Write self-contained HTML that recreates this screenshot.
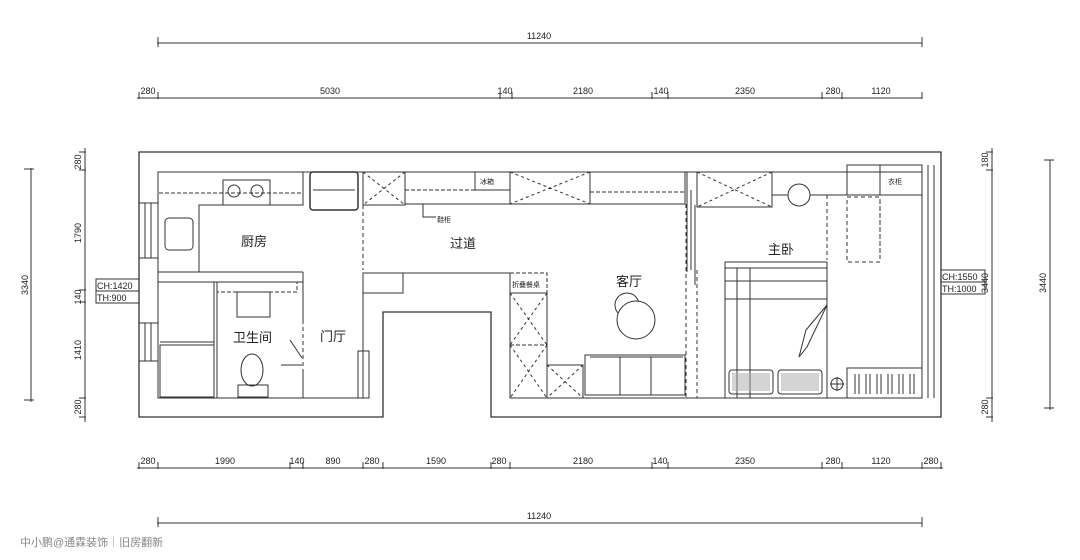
<!DOCTYPE html>
<html><head><meta charset="utf-8"><style>
html,body{margin:0;padding:0;background:#fff;width:1080px;height:560px;overflow:hidden}
svg{display:block}
text{font-family:"Liberation Sans","Noto Sans CJK SC",sans-serif;fill:#222}
</style></head><body>
<svg width="1080" height="560" viewBox="0 0 1080 560" xmlns="http://www.w3.org/2000/svg">
<g stroke="#333" stroke-width="1" fill="none">
<!-- top dims -->
<line x1="157" y1="43" x2="922" y2="43"/><line x1="158" y1="37" x2="158" y2="47"/><line x1="922" y1="37" x2="922" y2="47"/>
<line x1="137" y1="98" x2="922" y2="98"/>
<path d="M139 92v7M158 92v7M500 92v7M512 92v7M652 92v7M668 92v7M822 92v7M842 92v7M922 92v7"/>
<!-- bottom dims -->
<line x1="137" y1="468" x2="943" y2="468"/>
<path d="M139 462v7M158 462v7M290 462v7M303 462v7M363 462v7M383 462v7M491 462v7M510 462v7M652 462v7M668 462v7M822 462v7M842 462v7M922 462v7M941 462v7"/>
<line x1="157" y1="523" x2="922" y2="523"/><line x1="158" y1="517" x2="158" y2="527"/><line x1="922" y1="517" x2="922" y2="527"/>
<!-- left dims -->
<line x1="31" y1="168" x2="31" y2="402"/><line x1="24" y1="169" x2="34" y2="169"/><line x1="24" y1="400" x2="34" y2="400"/>
<line x1="85" y1="148" x2="85" y2="422"/>
<path d="M79 152h7M79 170h7M79 290h7M79 302h7M79 398h7M79 417h7"/>
<rect x="96" y="279" width="43" height="12"/><rect x="96" y="291" width="43" height="12"/>
<!-- right dims -->
<line x1="992" y1="148" x2="992" y2="422"/>
<path d="M986 152h7M986 170h7M986 398h7M986 417h7"/>
<line x1="1050" y1="160" x2="1050" y2="410"/><line x1="1044" y1="160" x2="1054" y2="160"/><line x1="1044" y1="408" x2="1054" y2="408"/>
<rect x="941" y="270" width="44" height="12"/><rect x="941" y="282" width="44" height="12"/>

<!-- outer walls -->
<path d="M139 152H941V417H491V312H383V417H139Z" stroke-width="1.3"/>
<path d="M158 172H922V398"/>
<path d="M158 172V398H363V293H403V273H510V293" />
<line x1="922" y1="398" x2="510" y2="398"/>
<!-- windows left -->
<rect x="139" y="203" width="19" height="55"/><line x1="145" y1="203" x2="145" y2="258"/><line x1="151" y1="203" x2="151" y2="258"/>
<rect x="139" y="323" width="19" height="38"/><line x1="145" y1="323" x2="145" y2="361"/><line x1="151" y1="323" x2="151" y2="361"/>
<!-- window right -->
<line x1="928" y1="165" x2="928" y2="398"/><line x1="934" y1="165" x2="934" y2="398"/>
<!-- kitchen -->
<rect x="158" y="172" width="145" height="21" stroke-dasharray="4 2"/>
<path d="M199 272V205H303V172"/>
<rect x="223" y="180" width="47" height="25"/><circle cx="234" cy="191" r="6"/><circle cx="257" cy="191" r="6"/>
<rect x="310" y="172" width="48" height="38" rx="3" stroke-width="1.5"/><line x1="313" y1="190" x2="355" y2="190"/>
<rect x="165" y="218" width="28" height="32" rx="4"/>
<line x1="158" y1="272" x2="303" y2="272"/><line x1="158" y1="282" x2="303" y2="282"/>
<path d="M303 272V320M303 370V398"/><line x1="303" y1="320" x2="303" y2="370" stroke-dasharray="4 3"/>
<!-- bath -->
<line x1="214" y1="282" x2="214" y2="398"/><line x1="217" y1="282" x2="217" y2="398"/>
<rect x="160" y="345" width="54" height="52"/><line x1="160" y1="342" x2="214" y2="342"/>
<rect x="217" y="282" width="80" height="10" stroke-dasharray="4 2"/>
<rect x="237" y="292" width="33" height="25"/>
<ellipse cx="252" cy="370" rx="11" ry="16"/><rect x="238" y="385" width="30" height="12"/>
<path d="M290 340l12 18M281 365h21"/>
<!-- corridor -->
<line x1="363" y1="205" x2="363" y2="270" stroke-dasharray="4 3"/>
<rect x="363" y="172" width="42" height="33"/><path d="M363 172l42 33M405 172l-42 33" stroke-dasharray="3 3"/>
<rect x="405" y="172" width="105" height="32"/><line x1="405" y1="190" x2="475" y2="190" stroke-dasharray="4 2"/><rect x="475" y="172" width="35" height="18"/>
<path d="M423 204v13h13"/>
<rect x="363" y="273" width="40" height="20"/>
<rect x="358" y="351" width="11" height="47"/>
<!-- living -->
<rect x="510" y="172" width="80" height="32"/><path d="M510 172l80 32M590 172l-80 32" stroke-dasharray="3 3"/>
<rect x="590" y="172" width="95" height="32"/><line x1="590" y1="192" x2="685" y2="192" stroke-dasharray="4 2"/>
<rect x="510" y="273" width="37" height="20" stroke-dasharray="4 2"/>
<rect x="510" y="293" width="37" height="105"/><line x1="510" y1="345" x2="547" y2="345" stroke-dasharray="4 2"/>
<path d="M510 293l37 52M547 293l-37 52M510 345l37 53M547 345l-37 53" stroke-dasharray="3 3"/>
<rect x="547" y="365" width="36" height="33"/><path d="M547 365l36 33M583 365l-36 33" stroke-dasharray="3 3"/>
<rect x="585" y="355" width="100" height="40"/><path d="M590 357h93M620 357v38M651 357v38"/>
<circle cx="627" cy="305" r="12"/><circle cx="636" cy="320" r="19" fill="#fff"/>
<line x1="686" y1="204" x2="686" y2="398" stroke-dasharray="4 3"/><line x1="697" y1="270" x2="697" y2="398" stroke-dasharray="4 3"/>
<path d="M687 172v100M691 190v80M695 205v80"/>
<!-- bedroom -->
<rect x="697" y="172" width="75" height="35"/><path d="M697 172l75 35M772 172l-75 35" stroke-dasharray="3 3"/>
<line x1="772" y1="195" x2="922" y2="195"/><circle cx="799" cy="195" r="11" fill="#fff"/>
<line x1="827" y1="195" x2="827" y2="260" stroke-dasharray="4 3"/>
<rect x="725" y="262" width="102" height="136"/>
<path d="M725 268h102M725 281h102M725 299h102M737 268v130M750 268v130"/>
<path d="M827 305l-20 42l-8 10l7 -27z"/>
<rect x="729" y="370" width="44" height="24" rx="3"/><rect x="778" y="370" width="44" height="24" rx="3"/>
<circle cx="837" cy="384" r="6"/><path d="M830 384h14M837 377v14"/>
<rect x="847" y="165" width="33" height="30"/><rect x="880" y="165" width="42" height="30"/>
<rect x="847" y="197" width="33" height="65" stroke-dasharray="4 3"/><line x1="880" y1="200" x2="880" y2="255" stroke-dasharray="4 3"/>
<rect x="847" y="368" width="75" height="30"/>
<path d="M855 374v20M859 374v20M866 374v20M870 374v20M877 374v20M881 374v20M888 374v20M892 374v20M899 374v20M903 374v20M910 374v20M914 374v20"/>
</g>
<g fill="#aaa" opacity="0.5">
<rect x="732" y="373" width="38" height="18"/><rect x="781" y="373" width="38" height="18"/>
</g>
<g font-size="9">
<text x="539" y="39" text-anchor="middle">11240</text>
<text x="539" y="519" text-anchor="middle">11240</text>
<text x="148" y="94" text-anchor="middle">280</text><text x="330" y="94" text-anchor="middle">5030</text>
<text x="505" y="94" text-anchor="middle">140</text><text x="583" y="94" text-anchor="middle">2180</text>
<text x="661" y="94" text-anchor="middle">140</text><text x="745" y="94" text-anchor="middle">2350</text>
<text x="833" y="94" text-anchor="middle">280</text><text x="881" y="94" text-anchor="middle">1120</text>
<g transform="translate(0,370)">
<text x="148" y="94" text-anchor="middle">280</text><text x="225" y="94" text-anchor="middle">1990</text>
<text x="297" y="94" text-anchor="middle">140</text><text x="333" y="94" text-anchor="middle">890</text>
<text x="372" y="94" text-anchor="middle">280</text><text x="436" y="94" text-anchor="middle">1590</text>
<text x="499" y="94" text-anchor="middle">280</text><text x="583" y="94" text-anchor="middle">2180</text>
<text x="660" y="94" text-anchor="middle">140</text><text x="745" y="94" text-anchor="middle">2350</text>
<text x="833" y="94" text-anchor="middle">280</text><text x="881" y="94" text-anchor="middle">1120</text>
<text x="931" y="94" text-anchor="middle">280</text>
</g>
<text transform="translate(28,285) rotate(-90)" text-anchor="middle">3340</text>
<text transform="translate(81,162) rotate(-90)" text-anchor="middle">280</text>
<text transform="translate(81,233) rotate(-90)" text-anchor="middle">1790</text>
<text transform="translate(81,297) rotate(-90)" text-anchor="middle">140</text>
<text transform="translate(81,350) rotate(-90)" text-anchor="middle">1410</text>
<text transform="translate(81,407) rotate(-90)" text-anchor="middle">280</text>
<text transform="translate(988,160) rotate(-90)" text-anchor="middle">180</text>
<text transform="translate(988,283) rotate(-90)" text-anchor="middle">3440</text>
<text transform="translate(988,407) rotate(-90)" text-anchor="middle">280</text>
<text transform="translate(1046,283) rotate(-90)" text-anchor="middle">3440</text>
<text x="97" y="289">CH:1420</text><text x="97" y="301">TH:900</text>
<text x="942" y="280">CH:1550</text><text x="942" y="292">TH:1000</text>
</g>
<g font-size="13">
<text x="241" y="246">厨房</text><text x="450" y="248">过道</text>
<text x="233" y="342">卫生间</text><text x="320" y="341">门厅</text>
<text x="616" y="286">客厅</text><text x="768" y="254">主卧</text>
</g>
<g font-size="7">
<text x="512" y="287">折叠餐桌</text><text x="480" y="184">冰箱</text>
<text x="437" y="222">鞋柜</text><text x="888" y="184">衣柜</text>
</g>
<text x="20" y="546" font-size="11" fill="#777" style="fill:#888">中小鹏@通霖装饰｜旧房翻新</text>
</svg>
</body></html>
